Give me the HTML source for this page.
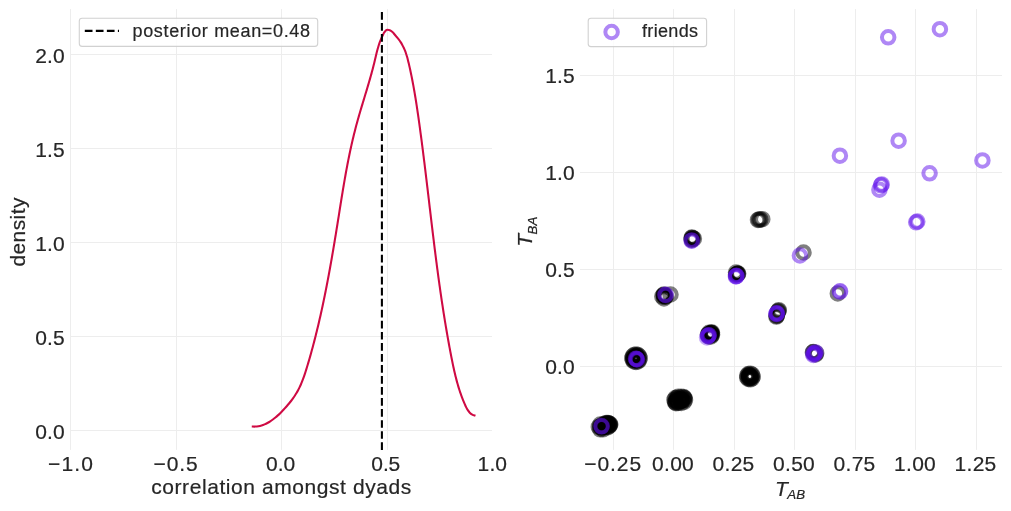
<!DOCTYPE html>
<html lang="en"><head><meta charset="utf-8"><title>dyad correlation</title>
<style>html,body{margin:0;padding:0;background:#fff;}body{width:1011px;height:511px;overflow:hidden;}svg{display:block;will-change:transform;}text{font-family:"Liberation Sans",sans-serif;fill:#262626;stroke:#262626;stroke-width:0.2px;}</style>
</head><body>
<svg width="1011" height="511" viewBox="0 0 1011 511">
<rect x="0" y="0" width="1011" height="511" fill="#ffffff"/>
<g id="left-axes">
<line x1="70.5" y1="9.1" x2="70.5" y2="449.9" stroke="#ededed" stroke-width="1"/>
<line x1="176.5" y1="9.1" x2="176.5" y2="449.9" stroke="#ededed" stroke-width="1"/>
<line x1="281.5" y1="9.1" x2="281.5" y2="449.9" stroke="#ededed" stroke-width="1"/>
<line x1="387.5" y1="9.1" x2="387.5" y2="449.9" stroke="#ededed" stroke-width="1"/>
<line x1="70.0" y1="54.5" x2="492.0" y2="54.5" stroke="#ededed" stroke-width="1"/>
<line x1="70.0" y1="148.5" x2="492.0" y2="148.5" stroke="#ededed" stroke-width="1"/>
<line x1="70.0" y1="242.5" x2="492.0" y2="242.5" stroke="#ededed" stroke-width="1"/>
<line x1="70.0" y1="336.5" x2="492.0" y2="336.5" stroke="#ededed" stroke-width="1"/>
<line x1="70.0" y1="430.5" x2="492.0" y2="430.5" stroke="#ededed" stroke-width="1"/>
<path d="M251.77,426.47 C252.34,426.49 254.08,426.62 255.20,426.58 C256.31,426.54 257.40,426.41 258.47,426.23 C259.54,426.04 260.58,425.78 261.60,425.47 C262.62,425.16 263.62,424.78 264.60,424.37 C265.57,423.95 266.53,423.48 267.46,422.97 C268.40,422.47 269.32,421.92 270.22,421.34 C271.12,420.77 272.00,420.15 272.86,419.52 C273.72,418.88 274.57,418.21 275.40,417.53 C276.24,416.84 277.05,416.12 277.86,415.39 C278.66,414.66 279.45,413.91 280.22,413.15 C281.00,412.38 281.77,411.60 282.52,410.81 C283.27,410.02 284.02,409.22 284.75,408.42 C285.48,407.62 286.21,406.80 286.92,405.99 C287.63,405.17 288.33,404.34 289.02,403.51 C289.71,402.68 290.38,401.84 291.04,400.99 C291.70,400.13 292.34,399.28 292.96,398.41 C293.59,397.53 294.20,396.66 294.79,395.76 C295.38,394.87 295.95,393.97 296.50,393.05 C297.05,392.14 297.58,391.21 298.08,390.26 C298.59,389.32 299.07,388.37 299.54,387.40 C300.01,386.44 300.45,385.46 300.88,384.47 C301.31,383.48 301.72,382.49 302.12,381.48 C302.52,380.48 302.90,379.46 303.28,378.44 C303.65,377.42 304.01,376.40 304.36,375.37 C304.71,374.34 305.05,373.30 305.39,372.26 C305.72,371.22 306.05,370.18 306.37,369.14 C306.69,368.10 307.01,367.05 307.32,366.01 C307.64,364.96 307.95,363.92 308.26,362.87 C308.57,361.83 308.87,360.78 309.18,359.73 C309.48,358.69 309.78,357.64 310.08,356.60 C310.38,355.55 310.67,354.50 310.97,353.46 C311.26,352.41 311.55,351.36 311.83,350.32 C312.12,349.27 312.41,348.22 312.69,347.17 C312.97,346.13 313.25,345.08 313.53,344.03 C313.80,342.98 314.08,341.93 314.35,340.88 C314.62,339.84 314.89,338.79 315.16,337.74 C315.42,336.69 315.69,335.64 315.95,334.59 C316.21,333.54 316.47,332.49 316.73,331.44 C316.99,330.39 317.24,329.34 317.50,328.29 C317.75,327.24 318.00,326.19 318.25,325.14 C318.50,324.08 318.75,323.03 318.99,321.98 C319.24,320.93 319.48,319.88 319.72,318.83 C319.96,317.78 320.20,316.72 320.44,315.67 C320.67,314.62 320.91,313.57 321.14,312.51 C321.37,311.46 321.61,310.41 321.84,309.36 C322.06,308.30 322.29,307.25 322.52,306.20 C322.74,305.14 322.97,304.09 323.19,303.04 C323.41,301.98 323.63,300.93 323.85,299.87 C324.07,298.82 324.29,297.77 324.50,296.71 C324.72,295.66 324.93,294.60 325.15,293.55 C325.36,292.50 325.57,291.44 325.78,290.39 C325.99,289.33 326.20,288.28 326.40,287.22 C326.61,286.17 326.81,285.11 327.02,284.06 C327.22,283.00 327.42,281.94 327.63,280.89 C327.83,279.83 328.03,278.78 328.22,277.72 C328.42,276.67 328.62,275.61 328.82,274.55 C329.01,273.50 329.21,272.44 329.40,271.39 C329.59,270.33 329.79,269.27 329.98,268.22 C330.17,267.16 330.36,266.10 330.55,265.05 C330.74,263.99 330.92,262.93 331.11,261.88 C331.30,260.82 331.48,259.76 331.67,258.71 C331.85,257.65 332.04,256.59 332.22,255.53 C332.40,254.48 332.58,253.42 332.77,252.36 C332.95,251.31 333.13,250.25 333.31,249.19 C333.49,248.13 333.66,247.08 333.84,246.02 C334.02,244.96 334.20,243.90 334.37,242.85 C334.55,241.79 334.72,240.73 334.90,239.67 C335.07,238.62 335.25,237.56 335.42,236.50 C335.60,235.44 335.77,234.39 335.94,233.33 C336.11,232.27 336.29,231.21 336.46,230.15 C336.63,229.10 336.80,228.04 336.97,226.98 C337.14,225.92 337.31,224.86 337.48,223.81 C337.65,222.75 337.82,221.69 337.99,220.63 C338.16,219.58 338.33,218.52 338.50,217.46 C338.66,216.40 338.83,215.34 339.00,214.29 C339.17,213.23 339.34,212.17 339.50,211.11 C339.67,210.05 339.84,209.00 340.01,207.94 C340.18,206.88 340.34,205.82 340.51,204.77 C340.68,203.71 340.85,202.65 341.02,201.59 C341.19,200.53 341.36,199.48 341.53,198.42 C341.70,197.36 341.88,196.30 342.05,195.25 C342.22,194.19 342.39,193.13 342.57,192.07 C342.74,191.02 342.92,189.96 343.09,188.90 C343.27,187.84 343.45,186.79 343.63,185.73 C343.81,184.67 343.99,183.62 344.17,182.56 C344.35,181.50 344.53,180.44 344.72,179.39 C344.90,178.33 345.09,177.27 345.28,176.22 C345.46,175.16 345.65,174.10 345.84,173.05 C346.04,171.99 346.23,170.93 346.42,169.88 C346.62,168.82 346.82,167.76 347.02,166.71 C347.22,165.65 347.42,164.60 347.62,163.54 C347.83,162.48 348.03,161.43 348.24,160.37 C348.45,159.32 348.66,158.26 348.88,157.21 C349.09,156.15 349.31,155.09 349.53,154.04 C349.75,152.98 349.97,151.93 350.19,150.87 C350.42,149.82 350.65,148.76 350.88,147.71 C351.11,146.65 351.34,145.60 351.58,144.55 C351.82,143.49 352.06,142.44 352.30,141.38 C352.55,140.33 352.79,139.27 353.05,138.22 C353.30,137.17 353.55,136.11 353.81,135.06 C354.07,134.01 354.33,132.95 354.60,131.90 C354.86,130.85 355.13,129.79 355.40,128.74 C355.68,127.69 355.96,126.64 356.24,125.58 C356.52,124.53 356.81,123.48 357.09,122.43 C357.38,121.37 357.68,120.32 357.97,119.27 C358.27,118.22 358.57,117.17 358.87,116.12 C359.18,115.07 359.48,114.01 359.79,112.96 C360.10,111.91 360.41,110.86 360.72,109.81 C361.03,108.76 361.34,107.71 361.66,106.66 C361.97,105.61 362.29,104.56 362.61,103.51 C362.92,102.46 363.24,101.41 363.56,100.36 C363.88,99.31 364.20,98.27 364.51,97.22 C364.83,96.17 365.15,95.12 365.47,94.07 C365.78,93.02 366.10,91.98 366.42,90.93 C366.73,89.88 367.05,88.83 367.36,87.79 C367.67,86.74 367.98,85.69 368.29,84.64 C368.60,83.60 368.91,82.55 369.21,81.51 C369.51,80.46 369.81,79.41 370.11,78.37 C370.41,77.32 370.71,76.28 371.00,75.23 C371.29,74.19 371.58,73.14 371.86,72.10 C372.14,71.05 372.42,70.01 372.70,68.97 C372.97,67.92 373.24,66.88 373.51,65.84 C373.77,64.79 374.03,63.75 374.29,62.71 C374.54,61.66 374.79,60.62 375.04,59.58 C375.28,58.54 375.52,57.50 375.77,56.46 C376.02,55.42 376.26,54.38 376.52,53.35 C376.78,52.31 377.04,51.28 377.31,50.25 C377.59,49.22 377.87,48.20 378.17,47.17 C378.47,46.15 378.78,45.13 379.12,44.12 C379.46,43.11 379.81,42.10 380.20,41.10 C380.58,40.09 380.98,39.09 381.42,38.10 C381.86,37.11 382.32,36.12 382.82,35.15 C383.32,34.17 383.80,33.09 384.43,32.23 C385.05,31.38 385.66,30.34 386.56,30.00 C387.45,29.65 388.80,29.85 389.79,30.18 C390.78,30.52 391.71,31.33 392.48,32.01 C393.26,32.69 393.77,33.47 394.44,34.25 C395.12,35.03 395.82,35.87 396.53,36.72 C397.23,37.57 398.01,38.45 398.70,39.34 C399.38,40.23 400.03,41.14 400.63,42.07 C401.23,42.99 401.78,43.93 402.30,44.88 C402.82,45.83 403.30,46.80 403.75,47.77 C404.20,48.75 404.61,49.74 405.00,50.73 C405.40,51.73 405.75,52.74 406.09,53.75 C406.43,54.76 406.75,55.79 407.05,56.81 C407.35,57.84 407.62,58.87 407.89,59.91 C408.16,60.95 408.42,61.99 408.66,63.04 C408.91,64.08 409.15,65.13 409.39,66.18 C409.63,67.23 409.86,68.27 410.09,69.33 C410.32,70.38 410.54,71.43 410.76,72.48 C410.99,73.54 411.20,74.59 411.42,75.65 C411.63,76.70 411.84,77.76 412.05,78.82 C412.26,79.87 412.46,80.93 412.67,81.99 C412.87,83.05 413.06,84.11 413.26,85.17 C413.46,86.23 413.65,87.30 413.84,88.36 C414.03,89.42 414.21,90.49 414.40,91.55 C414.58,92.62 414.76,93.68 414.94,94.75 C415.12,95.81 415.30,96.88 415.47,97.95 C415.64,99.01 415.82,100.08 415.99,101.15 C416.16,102.22 416.32,103.29 416.49,104.36 C416.65,105.43 416.82,106.50 416.98,107.57 C417.14,108.64 417.30,109.71 417.46,110.78 C417.62,111.85 417.78,112.92 417.93,113.99 C418.09,115.06 418.24,116.13 418.39,117.21 C418.55,118.28 418.70,119.35 418.85,120.42 C419.00,121.49 419.15,122.57 419.30,123.64 C419.44,124.71 419.59,125.78 419.74,126.86 C419.89,127.93 420.03,129.00 420.18,130.07 C420.32,131.15 420.47,132.22 420.61,133.29 C420.75,134.36 420.90,135.44 421.04,136.51 C421.18,137.58 421.32,138.65 421.46,139.72 C421.60,140.80 421.74,141.87 421.88,142.94 C422.02,144.01 422.16,145.09 422.30,146.16 C422.43,147.23 422.57,148.30 422.71,149.38 C422.85,150.45 422.98,151.52 423.12,152.59 C423.25,153.67 423.39,154.74 423.52,155.81 C423.66,156.88 423.79,157.95 423.92,159.03 C424.06,160.10 424.19,161.17 424.32,162.24 C424.45,163.32 424.59,164.39 424.72,165.46 C424.85,166.53 424.98,167.61 425.11,168.68 C425.24,169.75 425.37,170.82 425.50,171.89 C425.63,172.97 425.76,174.04 425.89,175.11 C426.02,176.18 426.15,177.25 426.28,178.33 C426.41,179.40 426.54,180.47 426.67,181.54 C426.79,182.61 426.92,183.69 427.05,184.76 C427.18,185.83 427.31,186.90 427.43,187.97 C427.56,189.05 427.69,190.12 427.81,191.19 C427.94,192.26 428.07,193.33 428.20,194.40 C428.32,195.48 428.45,196.55 428.58,197.62 C428.70,198.69 428.83,199.76 428.96,200.83 C429.08,201.91 429.21,202.98 429.34,204.05 C429.46,205.12 429.59,206.19 429.72,207.26 C429.84,208.33 429.97,209.41 430.10,210.48 C430.22,211.55 430.35,212.62 430.48,213.69 C430.60,214.76 430.73,215.83 430.86,216.90 C430.99,217.97 431.11,219.05 431.24,220.12 C431.37,221.19 431.50,222.26 431.62,223.33 C431.75,224.40 431.88,225.47 432.01,226.54 C432.14,227.61 432.27,228.68 432.40,229.75 C432.52,230.82 432.65,231.89 432.78,232.96 C432.91,234.03 433.04,235.10 433.17,236.17 C433.30,237.24 433.43,238.31 433.57,239.39 C433.70,240.46 433.83,241.53 433.96,242.60 C434.09,243.66 434.22,244.73 434.36,245.80 C434.49,246.87 434.62,247.94 434.76,249.01 C434.89,250.08 435.02,251.15 435.16,252.22 C435.29,253.29 435.43,254.36 435.56,255.43 C435.70,256.50 435.84,257.57 435.97,258.64 C436.11,259.71 436.25,260.78 436.39,261.84 C436.53,262.91 436.66,263.98 436.80,265.05 C436.94,266.12 437.08,267.19 437.22,268.26 C437.37,269.33 437.51,270.39 437.65,271.46 C437.79,272.53 437.94,273.60 438.08,274.67 C438.22,275.74 438.37,276.80 438.51,277.87 C438.66,278.94 438.81,280.01 438.95,281.07 C439.10,282.14 439.25,283.21 439.40,284.28 C439.55,285.35 439.70,286.41 439.85,287.48 C440.00,288.55 440.15,289.61 440.30,290.68 C440.45,291.75 440.61,292.82 440.76,293.88 C440.92,294.95 441.07,296.02 441.23,297.08 C441.39,298.15 441.54,299.22 441.70,300.28 C441.86,301.35 442.02,302.41 442.18,303.48 C442.34,304.55 442.50,305.61 442.67,306.68 C442.83,307.74 443.00,308.81 443.16,309.88 C443.33,310.94 443.49,312.01 443.66,313.07 C443.83,314.14 444.00,315.20 444.17,316.27 C444.34,317.33 444.51,318.40 444.68,319.46 C444.85,320.53 445.03,321.59 445.20,322.66 C445.38,323.72 445.56,324.79 445.73,325.85 C445.91,326.91 446.09,327.98 446.27,329.04 C446.45,330.11 446.63,331.17 446.82,332.23 C447.00,333.30 447.19,334.36 447.37,335.42 C447.56,336.49 447.75,337.55 447.94,338.61 C448.13,339.68 448.32,340.74 448.51,341.80 C448.70,342.87 448.89,343.93 449.09,344.99 C449.29,346.05 449.48,347.12 449.68,348.18 C449.88,349.24 450.08,350.30 450.28,351.36 C450.48,352.43 450.69,353.49 450.89,354.55 C451.10,355.61 451.30,356.67 451.51,357.73 C451.72,358.79 451.93,359.85 452.15,360.91 C452.36,361.97 452.58,363.03 452.80,364.09 C453.02,365.15 453.24,366.21 453.47,367.27 C453.70,368.32 453.93,369.38 454.17,370.43 C454.41,371.49 454.65,372.54 454.90,373.59 C455.15,374.64 455.41,375.69 455.67,376.74 C455.93,377.79 456.20,378.84 456.47,379.88 C456.75,380.93 457.03,381.97 457.32,383.01 C457.61,384.05 457.91,385.09 458.22,386.12 C458.53,387.16 458.84,388.19 459.17,389.22 C459.50,390.25 459.83,391.28 460.18,392.30 C460.53,393.32 460.88,394.35 461.25,395.36 C461.62,396.38 461.99,397.40 462.39,398.41 C462.78,399.42 463.18,400.42 463.59,401.43 C464.01,402.43 464.43,403.43 464.87,404.43 C465.32,405.42 465.75,406.43 466.24,407.39 C466.73,408.36 467.23,409.32 467.82,410.20 C468.40,411.08 469.02,411.94 469.76,412.67 C470.50,413.41 471.30,414.08 472.26,414.61 C473.21,415.14 474.93,415.63 475.47,415.84" fill="none" stroke="#CF0A43" stroke-width="2.08" stroke-linejoin="round" stroke-linecap="butt"/>
<line x1="381.9" y1="449.9" x2="381.9" y2="9.1" stroke="#000" stroke-width="2.08" stroke-dasharray="7.7 3.33"/>
<rect x="79.3" y="18.3" width="238.4" height="28.1" rx="2.8" ry="2.8" fill="#ffffff" fill-opacity="0.8" stroke="#cccccc" stroke-opacity="0.9" stroke-width="1.1"/>
<line x1="84.8" y1="30.9" x2="119.0" y2="30.9" stroke="#000" stroke-width="2.08" stroke-dasharray="7.7 3.33"/>
<text x="132.50" y="36.90" font-size="18.00" text-anchor="start" textLength="177.5" lengthAdjust="spacing" >posterior mean=0.48</text>
<text x="35.20" y="63.20" font-size="21.00" text-anchor="start" textLength="29.4" lengthAdjust="spacing" >2.0</text>
<text x="35.20" y="157.20" font-size="21.00" text-anchor="start" textLength="29.4" lengthAdjust="spacing" >1.5</text>
<text x="35.20" y="251.20" font-size="21.00" text-anchor="start" textLength="29.4" lengthAdjust="spacing" >1.0</text>
<text x="35.20" y="345.20" font-size="21.00" text-anchor="start" textLength="29.4" lengthAdjust="spacing" >0.5</text>
<text x="35.20" y="439.20" font-size="21.00" text-anchor="start" textLength="29.4" lengthAdjust="spacing" >0.0</text>
<text x="48.00" y="470.90" font-size="21.00" text-anchor="start" textLength="45.0" lengthAdjust="spacing" >−1.0</text>
<text x="153.50" y="470.90" font-size="21.00" text-anchor="start" textLength="44.2" lengthAdjust="spacing" >−0.5</text>
<text x="266.10" y="470.90" font-size="21.00" text-anchor="start" textLength="29.2" lengthAdjust="spacing" >0.0</text>
<text x="371.35" y="470.90" font-size="21.00" text-anchor="start" textLength="28.9" lengthAdjust="spacing" >0.5</text>
<text x="477.60" y="470.90" font-size="21.00" text-anchor="start" textLength="29.4" lengthAdjust="spacing" >1.0</text>
<text x="151.20" y="494.30" font-size="21.00" text-anchor="start" textLength="260.0" lengthAdjust="spacing" >correlation amongst dyads</text>
<text transform="translate(25.0,266.6) rotate(-90)" font-size="21.00" textLength="69.0" lengthAdjust="spacing">density</text>
</g>
<g id="right-axes">
<line x1="613.5" y1="9.1" x2="613.5" y2="449.9" stroke="#ededed" stroke-width="1"/>
<line x1="673.5" y1="9.1" x2="673.5" y2="449.9" stroke="#ededed" stroke-width="1"/>
<line x1="734.5" y1="9.1" x2="734.5" y2="449.9" stroke="#ededed" stroke-width="1"/>
<line x1="794.5" y1="9.1" x2="794.5" y2="449.9" stroke="#ededed" stroke-width="1"/>
<line x1="855.5" y1="9.1" x2="855.5" y2="449.9" stroke="#ededed" stroke-width="1"/>
<line x1="915.5" y1="9.1" x2="915.5" y2="449.9" stroke="#ededed" stroke-width="1"/>
<line x1="976.5" y1="9.1" x2="976.5" y2="449.9" stroke="#ededed" stroke-width="1"/>
<line x1="580.0" y1="75.5" x2="1002.0" y2="75.5" stroke="#ededed" stroke-width="1"/>
<line x1="580.0" y1="172.5" x2="1002.0" y2="172.5" stroke="#ededed" stroke-width="1"/>
<line x1="580.0" y1="269.5" x2="1002.0" y2="269.5" stroke="#ededed" stroke-width="1"/>
<line x1="580.0" y1="366.5" x2="1002.0" y2="366.5" stroke="#ededed" stroke-width="1"/>
<g fill="none" stroke="#000000" stroke-opacity="0.5" stroke-width="4.0">
<circle cx="604.4" cy="426.9" r="6.25"/>
<circle cx="603.0" cy="429.3" r="6.25"/>
<circle cx="600.2" cy="429.3" r="6.25"/>
<circle cx="598.8" cy="426.9" r="6.25"/>
<circle cx="600.2" cy="424.5" r="6.25"/>
<circle cx="603.0" cy="424.5" r="6.25"/>
<circle cx="601.2" cy="427.7" r="6.25"/>
<circle cx="601.2" cy="426.4" r="6.25"/>
<circle cx="600.3" cy="426.6" r="6.25"/>
<circle cx="603.1" cy="427.5" r="6.25"/>
<circle cx="604.0" cy="425.6" r="6.25"/>
<circle cx="605.5" cy="425.0" r="6.25"/>
<circle cx="606.5" cy="424.5" r="6.25"/>
<circle cx="607.5" cy="424.0" r="6.25"/>
<circle cx="608.5" cy="423.6" r="6.25"/>
<circle cx="609.5" cy="423.8" r="6.25"/>
<circle cx="610.3" cy="424.3" r="6.25"/>
<circle cx="608.0" cy="423.0" r="6.25"/>
<circle cx="606.8" cy="423.5" r="6.25"/>
<circle cx="609.4" cy="424.8" r="6.25"/>
<circle cx="607.5" cy="427.3" r="6.25"/>
<circle cx="609.0" cy="426.2" r="6.25"/>
<circle cx="606.0" cy="426.9" r="6.25"/>
<circle cx="609.9" cy="425.3" r="6.25"/>
<circle cx="605.0" cy="423.9" r="6.25"/>
<circle cx="606.2" cy="422.9" r="6.25"/>
<circle cx="685.0" cy="399.9" r="6.25"/>
<circle cx="684.0" cy="401.8" r="6.25"/>
<circle cx="681.3" cy="403.0" r="6.25"/>
<circle cx="678.1" cy="403.0" r="6.25"/>
<circle cx="675.4" cy="401.8" r="6.25"/>
<circle cx="674.4" cy="399.9" r="6.25"/>
<circle cx="675.4" cy="398.0" r="6.25"/>
<circle cx="678.1" cy="396.8" r="6.25"/>
<circle cx="681.3" cy="396.8" r="6.25"/>
<circle cx="684.0" cy="398.0" r="6.25"/>
<circle cx="682.4" cy="400.3" r="6.25"/>
<circle cx="680.9" cy="400.2" r="6.25"/>
<circle cx="676.3" cy="401.0" r="6.25"/>
<circle cx="681.1" cy="400.8" r="6.25"/>
<circle cx="676.8" cy="398.1" r="6.25"/>
<circle cx="677.3" cy="399.1" r="6.25"/>
<circle cx="680.6" cy="399.8" r="6.25"/>
<circle cx="681.1" cy="398.8" r="6.25"/>
<circle cx="680.6" cy="400.6" r="6.25"/>
<circle cx="678.3" cy="402.1" r="6.25"/>
<circle cx="683.6" cy="397.0" r="6.25"/>
<circle cx="684.6" cy="398.2" r="6.25"/>
<circle cx="675.2" cy="402.4" r="6.25"/>
<circle cx="676.0" cy="403.2" r="6.25"/>
<circle cx="752.8" cy="376.5" r="6.25"/>
<circle cx="752.1" cy="378.3" r="6.25"/>
<circle cx="750.4" cy="379.3" r="6.25"/>
<circle cx="748.4" cy="378.9" r="6.25"/>
<circle cx="747.2" cy="377.5" r="6.25"/>
<circle cx="747.2" cy="375.5" r="6.25"/>
<circle cx="748.4" cy="374.1" r="6.25"/>
<circle cx="750.4" cy="373.7" r="6.25"/>
<circle cx="752.1" cy="374.7" r="6.25"/>
<circle cx="750.6" cy="378.0" r="6.25"/>
<circle cx="749.0" cy="375.5" r="6.25"/>
<circle cx="749.3" cy="376.3" r="6.25"/>
<circle cx="750.9" cy="376.9" r="6.25"/>
<circle cx="749.3" cy="375.2" r="6.25"/>
<circle cx="749.2" cy="378.1" r="6.25"/>
<circle cx="639.7" cy="358.2" r="6.25"/>
<circle cx="639.2" cy="360.1" r="6.25"/>
<circle cx="637.9" cy="361.4" r="6.25"/>
<circle cx="636.0" cy="361.9" r="6.25"/>
<circle cx="634.1" cy="361.4" r="6.25"/>
<circle cx="632.8" cy="360.1" r="6.25"/>
<circle cx="632.3" cy="358.2" r="6.25"/>
<circle cx="632.8" cy="356.3" r="6.25"/>
<circle cx="634.1" cy="355.0" r="6.25"/>
<circle cx="636.0" cy="354.5" r="6.25"/>
<circle cx="637.9" cy="355.0" r="6.25"/>
<circle cx="639.2" cy="356.3" r="6.25"/>
<circle cx="634.4" cy="358.7" r="6.25"/>
<circle cx="636.7" cy="355.8" r="6.25"/>
<circle cx="636.1" cy="360.4" r="6.25"/>
<circle cx="633.3" cy="357.8" r="6.25"/>
<circle cx="635.8" cy="356.6" r="6.25"/>
<circle cx="637.0" cy="358.1" r="6.25"/>
<circle cx="633.8" cy="359.5" r="6.25"/>
<circle cx="637.2" cy="359.9" r="6.25"/>
<circle cx="665.7" cy="296.4" r="6.25"/>
<circle cx="664.0" cy="298.4" r="6.25"/>
<circle cx="662.3" cy="296.4" r="6.25"/>
<circle cx="664.0" cy="294.4" r="6.25"/>
<circle cx="665.1" cy="296.7" r="6.25"/>
<circle cx="664.1" cy="295.2" r="6.25"/>
<circle cx="664.5" cy="295.8" r="6.25"/>
<circle cx="663.6" cy="295.2" r="6.25"/>
<circle cx="670.5" cy="294.5" r="6.25"/>
<circle cx="712.1" cy="334.6" r="6.25"/>
<circle cx="711.0" cy="336.4" r="6.25"/>
<circle cx="709.0" cy="336.4" r="6.25"/>
<circle cx="707.9" cy="334.6" r="6.25"/>
<circle cx="709.0" cy="332.8" r="6.25"/>
<circle cx="711.0" cy="332.8" r="6.25"/>
<circle cx="709.0" cy="334.1" r="6.25"/>
<circle cx="710.9" cy="333.2" r="6.25"/>
<circle cx="708.6" cy="334.8" r="6.25"/>
<circle cx="711.3" cy="335.1" r="6.25"/>
<circle cx="711.6" cy="333.0" r="6.25"/>
<circle cx="712.0" cy="332.5" r="6.25"/>
<circle cx="693.9" cy="238.7" r="6.25"/>
<circle cx="691.8" cy="239.8" r="6.25"/>
<circle cx="691.8" cy="237.6" r="6.25"/>
<circle cx="691.8" cy="237.9" r="6.25"/>
<circle cx="692.8" cy="238.2" r="6.25"/>
<circle cx="691.8" cy="239.3" r="6.25"/>
<circle cx="758.0" cy="219.9" r="6.25"/>
<circle cx="759.0" cy="219.6" r="6.25"/>
<circle cx="760.3" cy="219.4" r="6.25"/>
<circle cx="762.3" cy="219.2" r="6.25"/>
<circle cx="738.2" cy="273.6" r="6.25"/>
<circle cx="736.0" cy="274.7" r="6.25"/>
<circle cx="736.0" cy="272.5" r="6.25"/>
<circle cx="737.5" cy="273.7" r="6.25"/>
<circle cx="736.9" cy="273.9" r="6.25"/>
<circle cx="737.7" cy="273.9" r="6.25"/>
<circle cx="778.8" cy="310.2" r="6.25"/>
<circle cx="778.4" cy="310.9" r="6.25"/>
<circle cx="777.9" cy="311.8" r="6.25"/>
<circle cx="776.4" cy="316.6" r="6.25"/>
<circle cx="776.7" cy="316.0" r="6.25"/>
<circle cx="776.9" cy="315.2" r="6.25"/>
<circle cx="812.9" cy="352.3" r="6.25"/>
<circle cx="815.6" cy="354.5" r="6.25"/>
<circle cx="813.4" cy="352.0" r="6.25"/>
<circle cx="816.2" cy="353.2" r="6.25"/>
<circle cx="803.5" cy="252.5" r="6.25"/>
<circle cx="837.8" cy="293.4" r="6.25"/>
</g>
<g fill="none" stroke="#5F0FEB" stroke-width="4.0">
<circle cx="601.5" cy="426.3" r="6.25" stroke-opacity="0.50"/>
<circle cx="601.7" cy="426.1" r="6.25" stroke-opacity="0.25"/>
<circle cx="636.5" cy="359.1" r="6.25" stroke-opacity="0.50"/>
<circle cx="636.0" cy="358.7" r="6.25" stroke-opacity="0.50"/>
<circle cx="637.0" cy="359.5" r="6.25" stroke-opacity="0.50"/>
<circle cx="665.6" cy="294.8" r="6.25" stroke-opacity="0.50"/>
<circle cx="665.4" cy="295.0" r="6.25" stroke-opacity="0.30"/>
<circle cx="708.4" cy="335.6" r="6.25" stroke-opacity="0.50"/>
<circle cx="707.9" cy="336.2" r="6.25" stroke-opacity="0.50"/>
<circle cx="708.8" cy="335.2" r="6.25" stroke-opacity="0.50"/>
<circle cx="707.0" cy="337.5" r="6.25" stroke-opacity="0.35"/>
<circle cx="691.6" cy="240.7" r="6.25" stroke-opacity="0.50"/>
<circle cx="691.9" cy="240.4" r="6.25" stroke-opacity="0.30"/>
<circle cx="736.2" cy="276.1" r="6.25" stroke-opacity="0.50"/>
<circle cx="736.5" cy="275.8" r="6.25" stroke-opacity="0.50"/>
<circle cx="735.9" cy="276.4" r="6.25" stroke-opacity="0.50"/>
<circle cx="776.6" cy="313.6" r="6.25" stroke-opacity="0.50"/>
<circle cx="776.4" cy="313.9" r="6.25" stroke-opacity="0.50"/>
<circle cx="776.9" cy="313.3" r="6.25" stroke-opacity="0.50"/>
<circle cx="813.4" cy="355.0" r="6.25" stroke-opacity="0.50"/>
<circle cx="814.8" cy="353.2" r="6.25" stroke-opacity="0.50"/>
<circle cx="814.2" cy="354.0" r="6.25" stroke-opacity="0.50"/>
<circle cx="815.6" cy="352.4" r="6.25" stroke-opacity="0.50"/>
<circle cx="813.0" cy="353.4" r="6.25" stroke-opacity="0.30"/>
<circle cx="799.9" cy="255.5" r="6.25" stroke-opacity="0.50"/>
<circle cx="840.1" cy="291.3" r="6.25" stroke-opacity="0.50"/>
<circle cx="839.8" cy="291.7" r="6.25" stroke-opacity="0.30"/>
<circle cx="888.2" cy="37.3" r="6.25" stroke-opacity="0.50"/>
<circle cx="939.9" cy="29.2" r="6.25" stroke-opacity="0.50"/>
<circle cx="839.9" cy="155.7" r="6.25" stroke-opacity="0.50"/>
<circle cx="898.6" cy="140.7" r="6.25" stroke-opacity="0.50"/>
<circle cx="982.4" cy="160.4" r="6.25" stroke-opacity="0.50"/>
<circle cx="929.6" cy="173.3" r="6.25" stroke-opacity="0.50"/>
<circle cx="879.4" cy="189.7" r="6.25" stroke-opacity="0.50"/>
<circle cx="881.7" cy="184.4" r="6.25" stroke-opacity="0.50"/>
<circle cx="881.0" cy="185.3" r="6.25" stroke-opacity="0.50"/>
<circle cx="916.2" cy="222.3" r="6.25" stroke-opacity="0.50"/>
<circle cx="917.3" cy="221.5" r="6.25" stroke-opacity="0.50"/>
</g>
<rect x="588.2" y="18.3" width="118.4" height="28.3" rx="2.8" ry="2.8" fill="#ffffff" fill-opacity="0.8" stroke="#cccccc" stroke-opacity="0.9" stroke-width="1.1"/>
<circle cx="611.6" cy="32.0" r="6.25" fill="none" stroke="#5F0FEB" stroke-opacity="0.5" stroke-width="4.0"/>
<text x="642.00" y="37.20" font-size="18.00" text-anchor="start" textLength="56.0" lengthAdjust="spacing" >friends</text>
<text x="545.20" y="82.90" font-size="21.00" text-anchor="start" textLength="29.4" lengthAdjust="spacing" >1.5</text>
<text x="545.20" y="179.90" font-size="21.00" text-anchor="start" textLength="29.4" lengthAdjust="spacing" >1.0</text>
<text x="545.20" y="276.90" font-size="21.00" text-anchor="start" textLength="29.4" lengthAdjust="spacing" >0.5</text>
<text x="545.20" y="373.90" font-size="21.00" text-anchor="start" textLength="29.4" lengthAdjust="spacing" >0.0</text>
<text x="584.25" y="471.20" font-size="21.00" text-anchor="start" textLength="56.9" lengthAdjust="spacing" >−0.25</text>
<text x="652.00" y="471.20" font-size="21.00" text-anchor="start" textLength="41.8" lengthAdjust="spacing" >0.00</text>
<text x="712.50" y="471.20" font-size="21.00" text-anchor="start" textLength="41.8" lengthAdjust="spacing" >0.25</text>
<text x="773.00" y="471.20" font-size="21.00" text-anchor="start" textLength="41.8" lengthAdjust="spacing" >0.50</text>
<text x="833.50" y="471.20" font-size="21.00" text-anchor="start" textLength="41.8" lengthAdjust="spacing" >0.75</text>
<text x="894.00" y="471.20" font-size="21.00" text-anchor="start" textLength="41.8" lengthAdjust="spacing" >1.00</text>
<text x="954.50" y="471.20" font-size="21.00" text-anchor="start" textLength="41.8" lengthAdjust="spacing" >1.25</text>
<text x="775.0" y="495.9" font-size="21.00" font-style="italic">T<tspan font-size="13.3" dy="3.1" dx="-0.5">AB</tspan></text>
<text transform="translate(532.3,246.8) rotate(-90)" font-size="21.00" font-style="italic">T<tspan font-size="13.3" dy="4.3" dx="-0.5">BA</tspan></text>
</g>
</svg></body></html>
